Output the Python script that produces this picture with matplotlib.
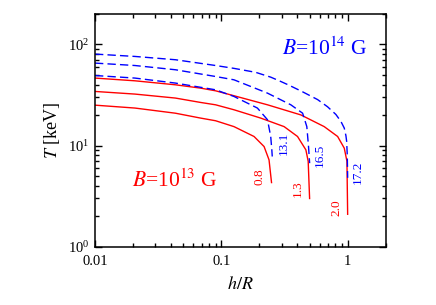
import matplotlib
matplotlib.use("Agg")
import matplotlib.pyplot as plt
from matplotlib.ticker import FixedLocator, FixedFormatter, LogLocator, NullFormatter

plt.rcParams['font.family'] = ['Liberation Serif', 'DejaVu Serif']
plt.rcParams['mathtext.fontset'] = 'stix'

# B = 1e13 G curves (red, solid)
red_h_08 = [0.01, 0.0207, 0.0433, 0.0685, 0.0901, 0.1259, 0.1815, 0.218, 0.2386, 0.25]
red_T_08 = [25.1, 23.5, 20.9, 18.7, 17.6, 15.4, 12.3, 9.78, 7.22, 4.24]
red_h_13 = [0.01, 0.0207, 0.0433, 0.0685, 0.0901, 0.1259, 0.205, 0.314, 0.401, 0.467, 0.487, 0.5]
red_T_13 = [34.3, 32.3, 29.5, 26.7, 25.3, 22.6, 18.7, 15.4, 12.3, 9.07, 7.0, 2.95]
red_h_20 = [0.01, 0.0207, 0.0433, 0.0685, 0.0901, 0.1259, 0.232, 0.426, 0.652, 0.833, 0.94, 0.987, 1.0]
red_T_20 = [46.5, 43.7, 39.9, 37.0, 34.8, 31.1, 25.3, 20.1, 15.4, 12.3, 9.43, 7.0, 2.06]

# B = 1e14 G curves (blue, dashed)
blue_h_131 = [0.01, 0.0207, 0.0433, 0.0901, 0.1259, 0.193, 0.232, 0.246, 0.251, 0.253]
blue_T_131 = [49.3, 46.5, 41.5, 35.6, 30.6, 23.5, 18.0, 12.3, 9.07, 7.8]
blue_h_165 = [0.01, 0.0207, 0.0433, 0.0901, 0.1259, 0.232, 0.355, 0.44, 0.475, 0.49, 0.5]
blue_T_165 = [65.4, 61.9, 56.2, 48.2, 44.7, 33.0, 25.3, 20.9, 15.4, 9.78, 6.7]
blue_h_172 = [0.01, 0.0207, 0.0433, 0.0901, 0.1259, 0.187, 0.246, 0.296, 0.344, 0.44, 0.578, 0.693, 0.807, 0.885, 0.94, 0.969, 0.982, 0.993, 1.0]
blue_T_172 = [80.3, 76.1, 70.6, 61.9, 58.0, 53.0, 47.5, 43.0, 39.5, 34.0, 28.5, 24.2, 20.3, 17.3, 14.9, 12.5, 11.0, 8.0, 4.8]

red_labels = ["0.8", "1.3", "2.0"]
blue_labels = ["13.1", "16.5", "17.2"]

x_ticks = [0.01, 0.1, 1]
x_ticklabels = ["0.01", "0.1", "1"]
y_ticks = [1, 10, 100]
y_ticklabels = [r"$\mathregular{10^{0}}$", r"$\mathregular{10^{1}}$", r"$\mathregular{10^{2}}$"]

fig = plt.figure(figsize=(4.36, 3.05), dpi=100)
ax = fig.add_axes([0.2179, 0.1911, 0.6667, 0.7630])

for h, T in [(red_h_08, red_T_08), (red_h_13, red_T_13), (red_h_20, red_T_20)]:
    ax.plot(h, T, color='#ff0000', lw=1.0, solid_capstyle='butt')
for h, T in [(blue_h_131, blue_T_131), (blue_h_165, blue_T_165), (blue_h_172, blue_T_172)]:
    ax.plot(h, T, color='#0000ff', lw=1.0, dashes=(6, 3))

ax.set_xscale('log')
ax.set_yscale('log')
ax.set_xlim(0.01, 2)
ax.set_ylim(1, 200)

ax.xaxis.set_major_locator(FixedLocator(x_ticks))
ax.xaxis.set_major_formatter(FixedFormatter(x_ticklabels))
ax.yaxis.set_major_locator(FixedLocator(y_ticks))
ax.yaxis.set_major_formatter(FixedFormatter(y_ticklabels))
ax.xaxis.set_minor_locator(LogLocator(base=10, subs=range(2, 10), numticks=20))
ax.yaxis.set_minor_locator(LogLocator(base=10, subs=range(2, 10), numticks=20))
ax.xaxis.set_minor_formatter(NullFormatter())
ax.yaxis.set_minor_formatter(NullFormatter())

ax.tick_params(which='both', direction='in', top=True, right=True, width=1.0, labelsize=10.5)
ax.tick_params(which='major', length=5)
ax.tick_params(which='minor', length=3)
ax.tick_params(axis='x', pad=6)
ax.tick_params(axis='y', pad=4)
for s in ax.spines.values():
    s.set_linewidth(1.1)

ax.set_xlabel(r"$h/R$", fontsize=13, labelpad=6)
ax.set_ylabel(r"$T$ [keV]", fontsize=13, labelpad=4)

def fx(px):
    return px / 436.0
def fy(py):
    return (305.0 - py) / 305.0

fig.text(fx(281.7), fy(55), r"$B$=10$^{14}$ G", color='#0000ff', fontsize=15.5, ha='left', va='baseline')
fig.text(fx(131.7), fy(187), r"$B$=10$^{13}$ G", color='#ff0000', fontsize=15.5, ha='left', va='baseline')

red_label_pos = [(259.3, 176.5), (297.7, 189), (336, 208)]
blue_label_pos = [(283.3, 143), (320, 155), (357.3, 172.5)]
for lab, (px, py) in zip(red_labels, red_label_pos):
    fig.text(fx(px), fy(py), lab, color='#ff0000', fontsize=9.5, rotation=90, ha='center', va='center')
for lab, (px, py) in zip(blue_labels, blue_label_pos):
    fig.text(fx(px), fy(py), lab, color='#0000ff', fontsize=9.5, rotation=90, ha='center', va='center')

fig.savefig("out.png", dpi=100)
